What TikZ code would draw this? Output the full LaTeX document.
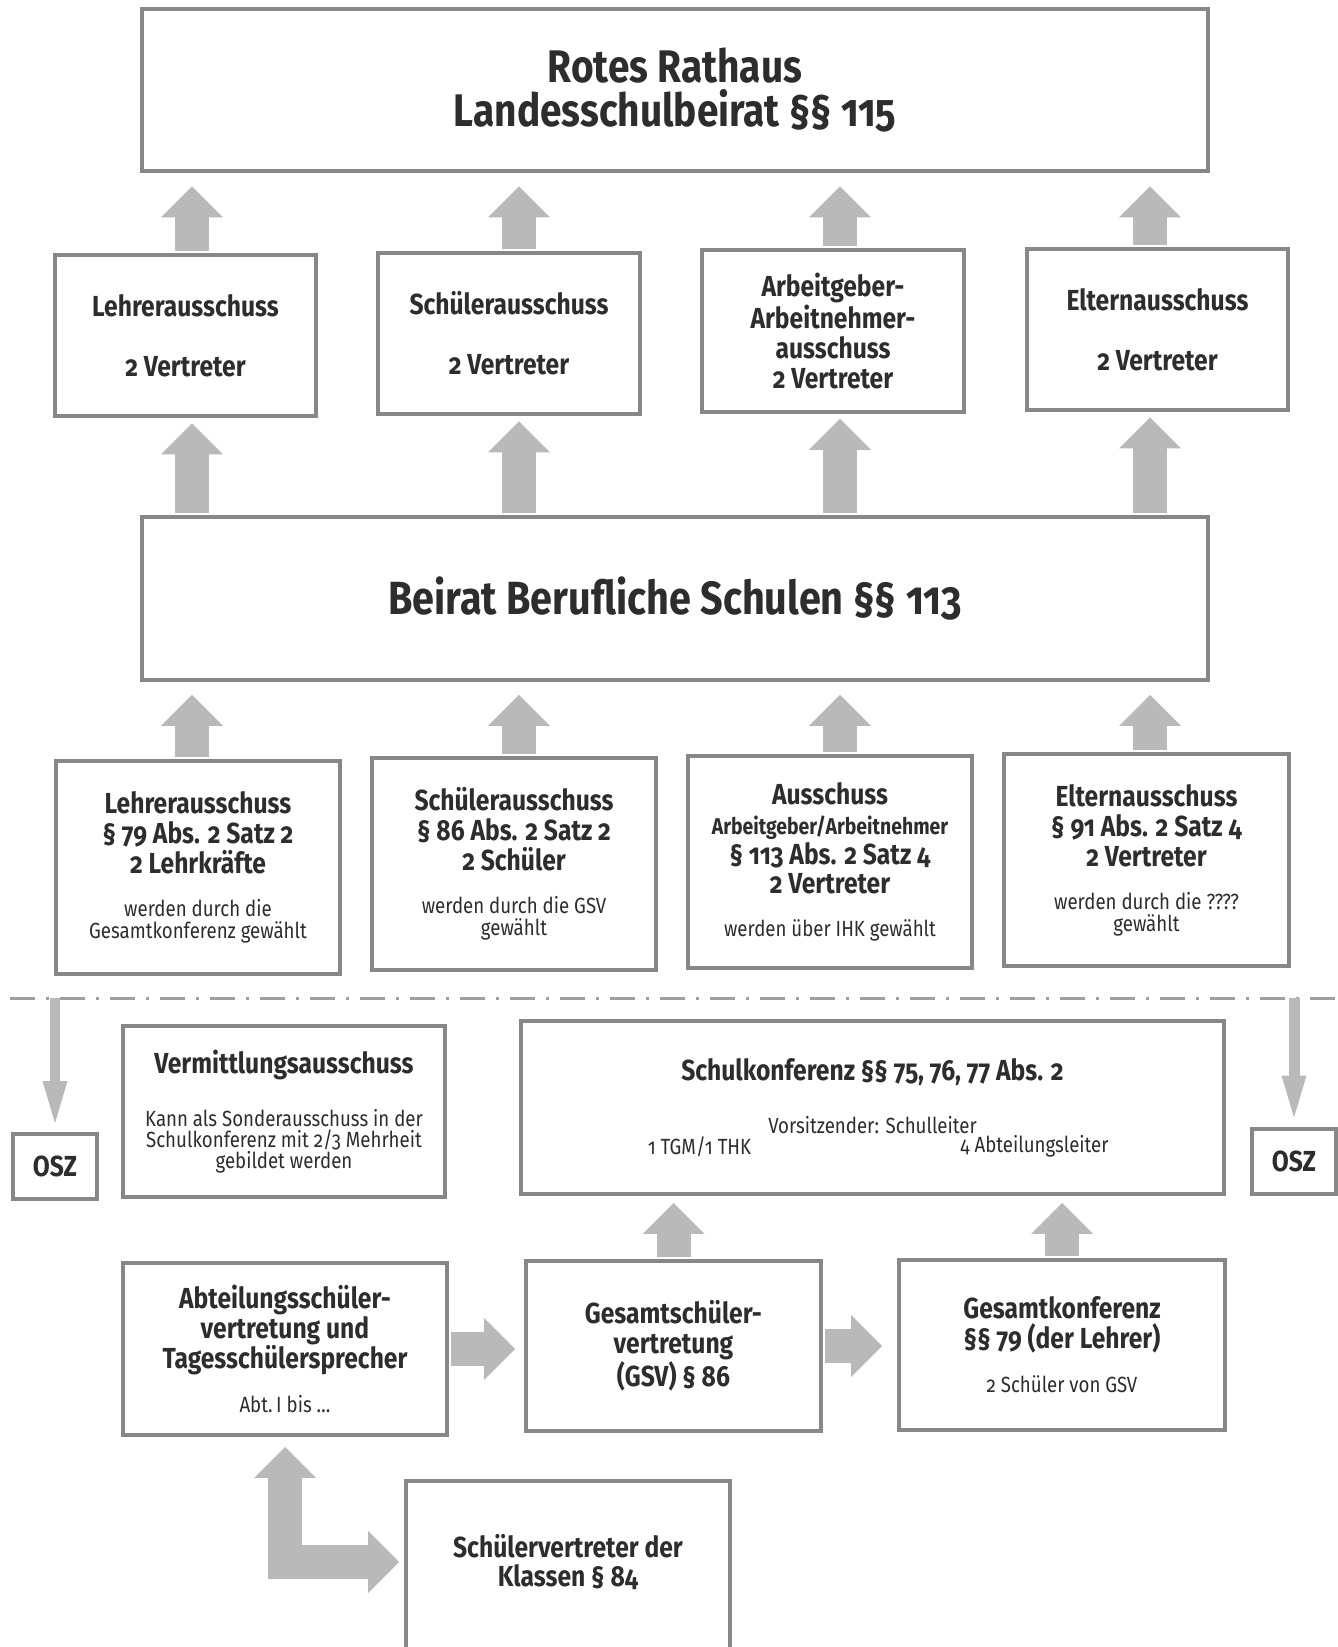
\documentclass[tikz,border=0pt]{standalone}
\usepackage{fontspec}
\setmainfont{Fira Sans}[FakeStretch=0.85,Numbers=OldStyle]
\usetikzlibrary{arrows.meta,calc}
\definecolor{boxgray}{RGB}{135,135,135}
\definecolor{arrowgray}{RGB}{185,185,185}
\definecolor{inkgray}{RGB}{45,45,45}
\newcommand{\titlefont}{\fontsize{26}{25}\selectfont\bfseries}
\newcommand{\headfont}{\fontsize{16.5}{17}\selectfont\bfseries}
\newcommand{\midfont}{\fontsize{13}{13}\selectfont\bfseries}
\newcommand{\notefont}{\fontsize{12.5}{13}\selectfont\mdseries}
\tikzset{fattip/.tip={Triangle[width=1.24cm,length=0.62cm,line width=0pt]},
  slimtip/.tip={Triangle[width=0.5cm,length=0.84cm,line width=0pt]}}

\begin{document}
\begin{tikzpicture}[x=0.02cm,y=-0.02cm,line cap=butt,
    box/.style={draw=boxgray,line width=0.08cm,fill=white,align=center,inner sep=0pt,text=inkgray},
    fat/.style={draw=arrowgray,line width=0.68cm,-fattip},
    slim/.style={draw=arrowgray,line width=0.22cm,-slimtip}]
  \fill[white] (0,0) rectangle (1338,1647);
  \useasboundingbox (0,0) rectangle (1338,1647);
  \clip (0,0) rectangle (1338,1647);

  \node[box,minimum width=21.32cm,minimum height=3.26cm,font=\titlefont] (rathaus) at (675,90) {Rotes Rathaus\\Landesschulbeirat §§ 115};

  \foreach \n/\x/\y/\t in {l2/185.5/335.5/{Lehrerausschuss\\[17pt]2 Vertreter},
      s2/509/333.5/{Schülerausschuss\\[17pt]2 Vertreter},
      a2/833/331/{Arbeitgeber-\\Arbeitnehmer-\\ausschuss\\2 Vertreter},
      e2/1157.5/329.5/{Elternausschuss\\[17pt]2 Vertreter}}
    \node[box,minimum width=5.24cm,minimum height=3.24cm,font=\headfont] (\n) at (\x,\y) {\t};

  \node[box,minimum width=21.32cm,minimum height=3.26cm,font=\fontsize{26.5}{26}\selectfont\bfseries] (beirat) at (675,598.5) {Beirat Berufliche Schulen §§ 113};

  \node[box,minimum width=5.68cm,minimum height=4.26cm,font=\headfont] (l4) at (198,867.5)
    {Lehrerausschuss\\§ 79 Abs. 2 Satz 2\\2 Lehrkräfte\\[7.5pt]\notefont werden durch die\\[-4.5pt]\notefont Gesamtkonferenz gewählt};
  \node[box,minimum width=5.68cm,minimum height=4.26cm,font=\headfont] (s4) at (514,864)
    {Schülerausschuss\\§ 86 Abs. 2 Satz 2\\2 Schüler\\[7.5pt]\notefont werden durch die GSV\\[-4.5pt]\notefont gewählt};
  \node[box,minimum width=5.68cm,minimum height=4.26cm,font=\headfont] (a4) at (830,862)
    {Ausschuss\\\midfont Arbeitgeber/Arbeitnehmer\\§ 113 Abs. 2 Satz 4\\2 Vertreter\\[7.5pt]\notefont werden über IHK gewählt};
  \node[box,minimum width=5.7cm,minimum height=4.26cm,font=\headfont] (e4) at (1146.5,860)
    {Elternausschuss\\§ 91 Abs. 2 Satz 4\\2 Vertreter\\[7.5pt]\notefont werden durch die ????\\[-4.5pt]\notefont gewählt};

  \foreach \n/\m/\dx in {l2/l4/6.5,s2/s4/10,a2/a4/7,e2/e4/-7.5}{
    \coordinate (\n-ax) at ($(\n.center)+(\dx,0)$);
    \draw[fat,shorten <=0.04cm,shorten >=0.26cm] (\n-ax |- \n.north) -- (\n-ax |- rathaus.south);
    \draw[fat,shorten <=0.04cm,shorten >=0.1cm] (\n-ax |- beirat.north) -- (\n-ax |- \n.south);
    \draw[fat,shorten <=0.04cm,shorten >=0.26cm] (\n-ax |- \m.north) -- (\n-ax |- beirat.south);
  }

  \coordinate (dl) at (10,998);
  \coordinate (dr) at (1338,998);
  \draw[boxgray!80,line width=0.06cm,dash pattern=on 0.5cm off 0.22cm on 0.06cm off 0.22cm] (dl) -- (dr);

  \node[box,minimum width=1.68cm,minimum height=1.3cm,font=\headfont] (oszl) at (55,1166.5) {OSZ};
  \node[box,minimum width=1.68cm,minimum height=1.3cm,font=\headfont] (oszr) at (1294,1161) {OSZ};
  \draw[slim,shorten >=0.18cm] (oszl.north |- dl) -- (oszl.north);
  \draw[slim,shorten >=0.18cm] (oszr.north |- dl) -- (oszr.north);

  \node[box,minimum width=6.44cm,minimum height=3.42cm,font=\headfont] (verm) at (284,1111.5)
    {Vermittlungsausschuss\\[13pt]\notefont Kann als Sonderausschuss in der\\[-5pt]\notefont Schulkonferenz mit 2/3 Mehrheit\\[-5pt]\notefont gebildet werden};
  \node[box,minimum width=14.06cm,minimum height=3.46cm] (sk) at (872.5,1107.5) {};
  \node[font=\headfont,text=inkgray] (skhead) at ($(sk.center)+(0,-35.5)$) {Schulkonferenz §§ 75, 76, 77 Abs. 2};
  \node[font=\notefont,text=inkgray] (skchair) at ($(sk.center)+(0,17.5)$) {Vorsitzender: Schulleiter};
  \node[font=\notefont,text=inkgray] (sktgm) at ($(sk.center)+(-173,39.5)$) {1 TGM/1 THK};
  \node[font=\notefont,text=inkgray] (skal) at ($(sk.center)+(162,38.5)$) {4 Abteilungsleiter};

  \node[box,minimum width=6.48cm,minimum height=3.44cm,font=\headfont] (abt) at (285,1349)
    {Abteilungsschüler-\\vertretung und\\Tagesschülersprecher\\[8pt]\notefont Abt.\,I bis \dots};
  \node[box,minimum width=5.9cm,minimum height=3.4cm,font=\headfont] (gsv) at (673.5,1346)
    {Gesamtschüler-\\vertretung\\(GSV) § 86};
  \node[box,minimum width=6.52cm,minimum height=3.4cm,font=\headfont] (gk) at (1062,1345)
    {Gesamtkonferenz\\§§ 79 (der Lehrer)\\[8pt]\notefont 2 Schüler von GSV};
  \node[box,anchor=north,minimum width=6.48cm,minimum height=4.8cm] (sv) at (568,1479) {};
  \node[font=\headfont,text=inkgray,align=center] (svtext) at ($(sv.north)+(0,83)$) {Schülervertreter der\\Klassen § 84};

  \draw[fat,shorten <=0.04cm,shorten >=0.14cm] (gsv.north) -- (gsv.north |- sk.south);
  \draw[fat,shorten <=0.04cm,shorten >=0.14cm] (gk.north) -- (gk.north |- sk.south);
  \draw[fat,shorten <=0.04cm,shorten >=0.18cm] (abt.east) -- (abt.east -| gsv.west);
  \draw[fat,shorten <=0.04cm,shorten >=0.3cm] (gsv.east) -- (gsv.east -| gk.west);
  \draw[fat,fattip-fattip,line join=miter,shorten <=0.2cm,shorten >=0.1cm] (abt.south) |- (sv.west |- svtext);
\end{tikzpicture}
\end{document}
